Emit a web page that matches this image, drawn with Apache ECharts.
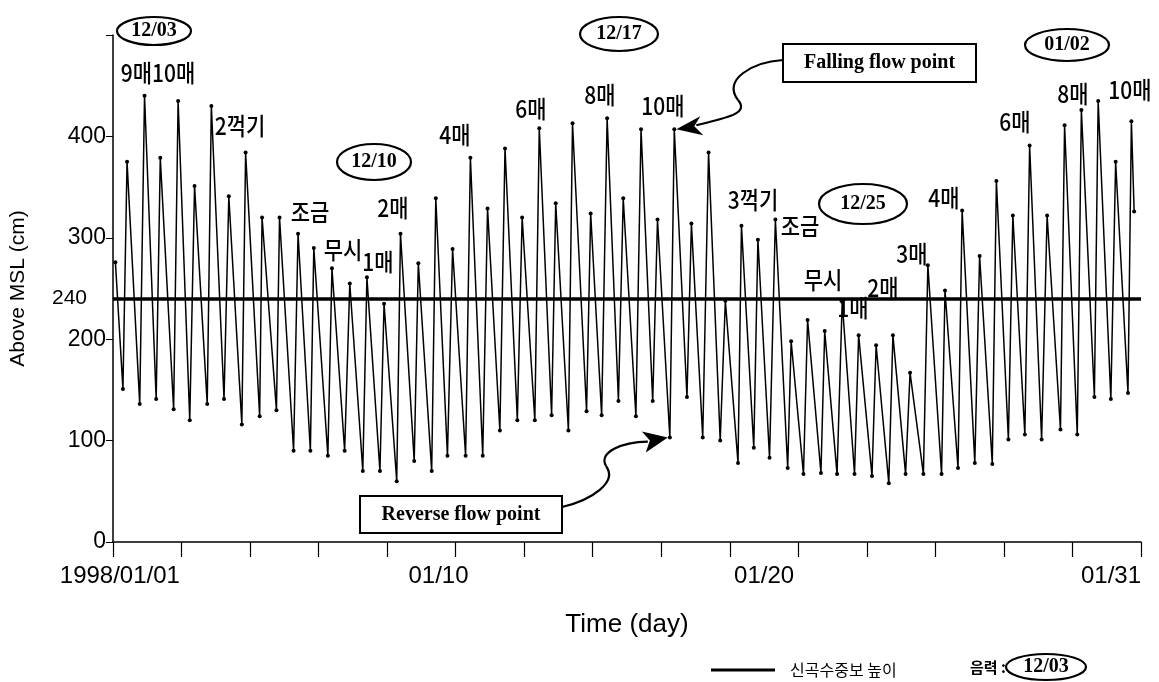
<!DOCTYPE html>
<html>
<head>
<meta charset="utf-8">
<script src="https://cdn.jsdelivr.net/npm/echarts@6/dist/echarts.min.js"></script>
<style>
  html, body { margin: 0; padding: 0; background: #fff; }
  #main { width: 1159px; height: 682px; }
</style>
</head>
<body>
<div id="main"></div>
<script>
// 수위 자료 (신곡수중보), 1998/01/01 기준 경과일 / cm
var tideDay = [0.07, 0.29, 0.41, 0.78, 0.92, 1.26, 1.38, 1.77, 1.90, 2.24, 2.38, 2.75, 2.87, 3.24, 3.38, 3.76, 3.87, 4.28, 4.35, 4.77,
  4.86, 5.27, 5.40, 5.76, 5.86, 6.27, 6.39, 6.76, 6.91, 7.29, 7.41, 7.79, 7.91, 8.28, 8.39, 8.79, 8.91, 9.30, 9.42, 9.76,
  9.91, 10.29, 10.43, 10.79, 10.93, 11.29, 11.44, 11.80, 11.94, 12.31, 12.44, 12.80, 12.92, 13.29, 13.41, 13.82, 13.94, 14.26, 14.42, 14.75,
  14.89, 15.26, 15.41, 15.75, 15.89, 16.25, 16.38, 16.75, 16.88, 17.21, 17.38, 17.72, 17.87, 18.24, 18.34, 18.70, 18.82, 19.16, 19.33, 19.69,
  19.79, 20.15, 20.27, 20.66, 20.77, 21.13, 21.28, 21.64, 21.76, 22.15, 22.27, 22.64, 22.76, 23.13, 23.26, 23.65, 23.78, 24.18, 24.28, 24.66,
  24.78, 25.15, 25.29, 25.66, 25.78, 26.13, 26.26, 26.61, 26.75, 27.10, 27.26, 27.65, 27.77, 28.14, 28.26, 28.64, 28.75, 29.12, 29.26, 29.62,
  29.72, 29.80];
var tideLevel = [276, 151, 375, 136, 440, 141, 379, 131, 435, 120, 351, 136, 430, 141, 341, 116, 384, 124, 320, 130,
  320, 90, 304, 90, 290, 85, 270, 90, 255, 70, 261, 70, 235, 60, 304, 80, 275, 70, 339, 85,
  289, 85, 379, 85, 329, 110, 388, 120, 320, 120, 408, 125, 334, 110, 413, 129, 324, 125, 418, 139,
  339, 124, 407, 139, 318, 103, 407, 143, 314, 103, 384, 100, 238, 78, 312, 93, 298, 83, 318, 73,
  198, 67, 219, 68, 208, 67, 237, 67, 204, 65, 194, 58, 204, 67, 167, 67, 273, 67, 248, 73,
  327, 78, 282, 77, 356, 101, 322, 106, 391, 101, 322, 111, 411, 106, 426, 143, 435, 141, 375, 147,
  415, 326];
var baseLevel = 240;           // 기준선
var reverseIdx = 65;           // Reverse flow point (저조)
var fallingIdx = 66;           // Falling flow point (고조)

var tickDays = [0, 2, 4, 6, 8, 10, 12, 14, 16, 18, 20, 22, 24, 26, 28, 30];
var labelDays = [0.2, 9.5, 19, 30];
var labelTexts = ['1998/01/01', '01/10', '01/20', '01/31'];

// 음력 / 물때 표기
var lunarMarks = [
  { t: '12/03', x: 154, y: 31, rx: 37, ry: 14 },
  { t: '12/10', x: 374, y: 162, rx: 37, ry: 18 },
  { t: '12/17', x: 619, y: 34, rx: 39, ry: 17 },
  { t: '12/25', x: 863, y: 204, rx: 44, ry: 20 },
  { t: '01/02', x: 1067, y: 45, rx: 42, ry: 16 }
];
var tideNames = [
  ['9매10매', 158, 73], ['2꺽기', 240, 126], ['조금', 310, 212], ['무시', 343, 250], ['1매', 378, 262],
  ['2매', 393, 208], ['4매', 455, 135], ['6매', 531, 109], ['8매', 600, 95], ['10매', 663, 106],
  ['3꺽기', 753, 200], ['조금', 800, 226], ['무시', 823, 280], ['1매', 853, 308], ['2매', 883, 288],
  ['3매', 912, 254], ['4매', 944, 198], ['6매', 1015, 122], ['8매', 1073, 94], ['10매', 1130, 90]
];

var seriesData = [];
for (var i = 0; i < tideDay.length; i++) {
  seriesData.push([tideDay[i], tideLevel[i]]);
}

var latin = "'Liberation Sans', Arial, sans-serif";
var kor = "'Noto Sans CJK KR', sans-serif";
var serif = "'Liberation Serif', 'DejaVu Serif', serif";

var myChart = echarts.init(document.getElementById('main'));
var option = {
  backgroundColor: '#fff',
  animation: false,
  grid: { left: 113, right: 18, top: 35, bottom: 140 },
  legend: {
    left: 706, top: 657,
    icon: 'rect', itemWidth: 64, itemHeight: 3,
    textStyle: { fontFamily: kor, fontSize: 16, color: '#000', padding: [0, 0, 0, 10] },
    data: ['신곡수중보 높이']
  },
  xAxis: {
    type: 'value', min: 0, max: 30, interval: 2,
    name: 'Time (day)', nameLocation: 'middle', nameGap: 70,
    nameTextStyle: { fontFamily: latin, fontSize: 26, color: '#000' },
    axisLine: { lineStyle: { color: '#000', width: 1.5 } },
    axisTick: { customValues: tickDays, length: 15, lineStyle: { color: '#000', width: 1.2 } },
    axisLabel: {
      customValues: labelDays, margin: 22, color: '#000', fontFamily: latin, fontSize: 24,
      alignMaxLabel: 'right',
      formatter: function (v) {
        var k = labelDays.indexOf(v);
        return k >= 0 ? labelTexts[k] : '';
      }
    },
    splitLine: { show: false }
  },
  yAxis: {
    type: 'value', min: 0, max: 500, interval: 100,
    name: 'Above MSL (cm)', nameLocation: 'middle', nameGap: 84,
    nameTextStyle: { fontFamily: latin, fontSize: 21, color: '#000' },
    axisLine: { show: true, lineStyle: { color: '#000', width: 1.5 } },
    axisTick: { show: true, length: 7, lineStyle: { color: '#000' } },
    axisLabel: {
      color: '#000', fontFamily: latin, fontSize: 23, margin: 7,
      formatter: function (v) { return v === 500 ? '' : v; }
    },
    splitLine: { show: false }
  },
  series: [{
    name: '신곡수중보 높이',
    type: 'line',
    data: seriesData,
    showAllSymbol: true,
    symbol: 'circle', symbolSize: 4,
    itemStyle: { color: '#000' },
    lineStyle: { color: '#000', width: 1.5 },
    markLine: {
      silent: true, symbol: 'none',
      lineStyle: { color: '#000', width: 3.5, type: 'solid' },
      label: { position: 'start', distance: 26, formatter: String(baseLevel), color: '#000', fontFamily: latin, fontSize: 21 },
      data: [{ yAxis: baseLevel }]
    }
  }]
};
myChart.setOption(option);

// 주석 (타원, 물때, 화살표)
var g = [];
lunarMarks.forEach(function (m) {
  g.push({ type: 'ellipse', shape: { cx: m.x, cy: m.y, rx: m.rx, ry: m.ry }, style: { fill: 'none', stroke: '#000', lineWidth: 2.2 } });
  g.push({ type: 'text', x: m.x, y: m.y, style: { text: m.t, font: 'bold 20px ' + serif, fill: '#000', align: 'center', verticalAlign: 'middle', textAlign: 'center', textVerticalAlign: 'middle' } });
});
tideNames.forEach(function (n) {
  g.push({ type: 'text', x: n[1], y: n[2], scaleY: 1.15, style: { text: n[0], font: '500 21px ' + kor, fill: '#000', align: 'center', verticalAlign: 'middle', textAlign: 'center', textVerticalAlign: 'middle' } });
});

// 범례 옆 음력
g.push({ type: 'text', x: 988, y: 667, style: { text: '음력 :', font: 'bold 15px ' + kor, fill: '#000', align: 'center', verticalAlign: 'middle', textAlign: 'center', textVerticalAlign: 'middle' } });
g.push({ type: 'ellipse', shape: { cx: 1046, cy: 667, rx: 40, ry: 13 }, style: { fill: 'none', stroke: '#000', lineWidth: 2.2 } });
g.push({ type: 'text', x: 1046, y: 667, style: { text: '12/03', font: 'bold 20px ' + serif, fill: '#000', align: 'center', verticalAlign: 'middle', textAlign: 'center', textVerticalAlign: 'middle' } });

// 박스
function box(x, y, w, h, t) {
  g.push({ type: 'rect', shape: { x: x, y: y, width: w, height: h }, style: { fill: '#fff', stroke: '#000', lineWidth: 2 } });
  g.push({ type: 'text', x: x + w / 2, y: y + h / 2, style: { text: t, font: 'bold 20px ' + serif, fill: '#000', align: 'center', verticalAlign: 'middle', textAlign: 'center', textVerticalAlign: 'middle' } });
}
box(783, 44, 193, 38, 'Falling flow point');
box(360, 496, 202, 37, 'Reverse flow point');

var fp = myChart.convertToPixel({ gridIndex: 0 }, seriesData[fallingIdx]);
var rp = myChart.convertToPixel({ gridIndex: 0 }, seriesData[reverseIdx]);
var curve = { fill: 'none', stroke: '#000', lineWidth: 2.2 };

// Falling flow point 화살표
g.push({ type: 'bezierCurve', shape: { x1: 783, y1: 60, cpx1: 752, cpy1: 62, cpx2: 722, cpy2: 80, x2: 738, y2: 100 }, style: curve });
g.push({ type: 'bezierCurve', shape: { x1: 738, y1: 100, cpx1: 750, cpy1: 114, cpx2: 725, cpy2: 118, x2: fp[0] + 22, y2: fp[1] - 4 }, style: curve });
g.push({ type: 'polygon', shape: { points: [[fp[0] + 2, fp[1]], [fp[0] + 26, fp[1] - 13], [fp[0] + 20, fp[1] - 3], [fp[0] + 29, fp[1] + 6]] }, style: { fill: '#000' } });

// Reverse flow point 화살표
g.push({ type: 'bezierCurve', shape: { x1: 562, y1: 507, cpx1: 592, cpy1: 500, cpx2: 618, cpy2: 482, x2: 606, y2: 466 }, style: curve });
g.push({ type: 'bezierCurve', shape: { x1: 606, y1: 466, cpx1: 598, cpy1: 452, cpx2: 622, cpy2: 442, x2: rp[0] - 22, y2: rp[1] + 4 }, style: curve });
g.push({ type: 'polygon', shape: { points: [[rp[0] - 2, rp[1]], [rp[0] - 28, rp[1] - 6], [rp[0] - 20, rp[1] + 3], [rp[0] - 24, rp[1] + 15]] }, style: { fill: '#000' } });

myChart.setOption({ graphic: { elements: g } });
</script>
</body>
</html>
